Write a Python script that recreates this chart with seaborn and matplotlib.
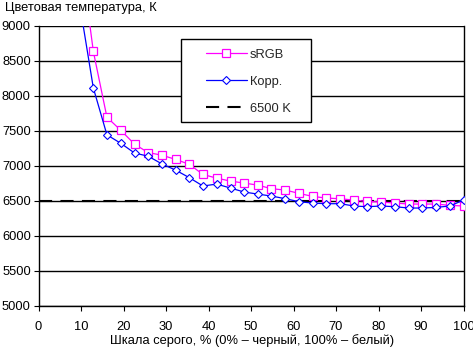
import matplotlib
matplotlib.use("Agg")
import matplotlib.pyplot as plt
from matplotlib.patches import Rectangle
import seaborn as sns
import pandas as pd

# gray level, % (0% - black, 100% - white)
gray = [9.7, 12.9, 16.1, 19.4, 22.6, 25.8, 29.0, 32.3, 35.5, 38.7, 41.9, 45.2,
        48.4, 51.6, 54.8, 58.1, 61.3, 64.5, 67.7, 71.0, 74.2, 77.4, 80.6, 83.9,
        87.1, 90.3, 93.5, 96.8, 100.0]
srgb = [10110, 8634, 7694, 7505, 7309, 7190, 7152, 7092, 7021, 6877, 6825, 6782,
        6754, 6725, 6674, 6654, 6607, 6564, 6540, 6531, 6511, 6493, 6483, 6469,
        6455, 6455, 6455, 6436, 6427]
korr = [9304, 8112, 7443, 7320, 7183, 7138, 7029, 6938, 6831, 6712, 6740, 6683,
        6626, 6597, 6569, 6531, 6488, 6469, 6460, 6460, 6427, 6417, 6427, 6417,
        6398, 6398, 6407, 6427, 6512]
target_k = 6500
xticks = [0, 10, 20, 30, 40, 50, 60, 70, 80, 90, 100]
yticks = [5000, 5500, 6000, 6500, 7000, 7500, 8000, 8500, 9000]

sns.set_theme(style="white")
plt.rcParams['font.family'] = ['Liberation Sans', 'DejaVu Sans']
fs = 9.3

W, H = 473, 349
fig = plt.figure(figsize=(W / 100, H / 100), dpi=100)
ax = fig.add_axes([38.5 / W, 1 - 306 / H, (463.5 - 38.5) / W, (306 - 25.7) / H])

for y in yticks:
    ax.axhline(y, color='black', lw=1.0, zorder=1)

ax.axhline(target_k, color='black', lw=1.5, dashes=(6.3, 4), zorder=2, label='6500 K')

df = pd.DataFrame({'x': gray, 'sRGB': srgb, 'Корр.': korr})
sns.lineplot(data=df, x='x', y='sRGB', ax=ax, color='#ff00ff', lw=0.9,
             marker='s', markersize=5.6, markerfacecolor='white',
             markeredgecolor='#ff00ff', markeredgewidth=0.9, zorder=3, label='sRGB')
sns.lineplot(data=df, x='x', y='Корр.', ax=ax, color='#0000ff', lw=0.9,
             marker='D', markersize=4.2, markerfacecolor='white',
             markeredgecolor='#0000ff', markeredgewidth=0.8, zorder=4, label='Корр.')

ax.set_xlim(0, 100)
ax.set_ylim(5000, 9000)
ax.set_xticks(xticks)
ax.set_yticks(yticks)
ax.tick_params(axis='both', direction='out', length=3.5, width=0.8, color='black',
               labelsize=fs, labelcolor='black', pad=2, bottom=True, left=True)
ax.tick_params(axis='x', pad=7.5)
for s in ['left', 'bottom', 'right']:
    ax.spines[s].set_visible(True)
    ax.spines[s].set_color('black')
    ax.spines[s].set_linewidth(1.0)
ax.spines['top'].set_visible(False)
ax.set_xlabel('')
ax.set_ylabel('')
fig.text(252.5 / W, 1 - 341 / H, 'Шкала серого, % (0% – черный, 100% – белый)',
         fontsize=fs, color='black', ha='center', va='center')
fig.text(5 / W, 1 - 8 / H, 'Цветовая температура, К', fontsize=fs, color='black',
         ha='left', va='center')

# legend frame
ax.add_patch(Rectangle((181 / W, 1 - 122 / H), 130 / W, 83 / H,
                       transform=fig.transFigure, facecolor='white',
                       edgecolor='black', lw=1.0, zorder=9, clip_on=False))

handles, labels = ax.get_legend_handles_labels()
order = [labels.index('sRGB'), labels.index('Корр.'), labels.index('6500 K')]
leg = ax.legend([handles[i] for i in order], [labels[i] for i in order],
                loc='upper left', bbox_to_anchor=(205.5 / W, 1 - 48.5 / H),
                bbox_transform=fig.transFigure, fontsize=fs, frameon=False,
                borderpad=0, labelspacing=1.17, handlelength=3.2,
                handletextpad=0.25, borderaxespad=0)
leg.set_zorder(10)

fig.savefig('out.png', dpi=100, facecolor='white')
